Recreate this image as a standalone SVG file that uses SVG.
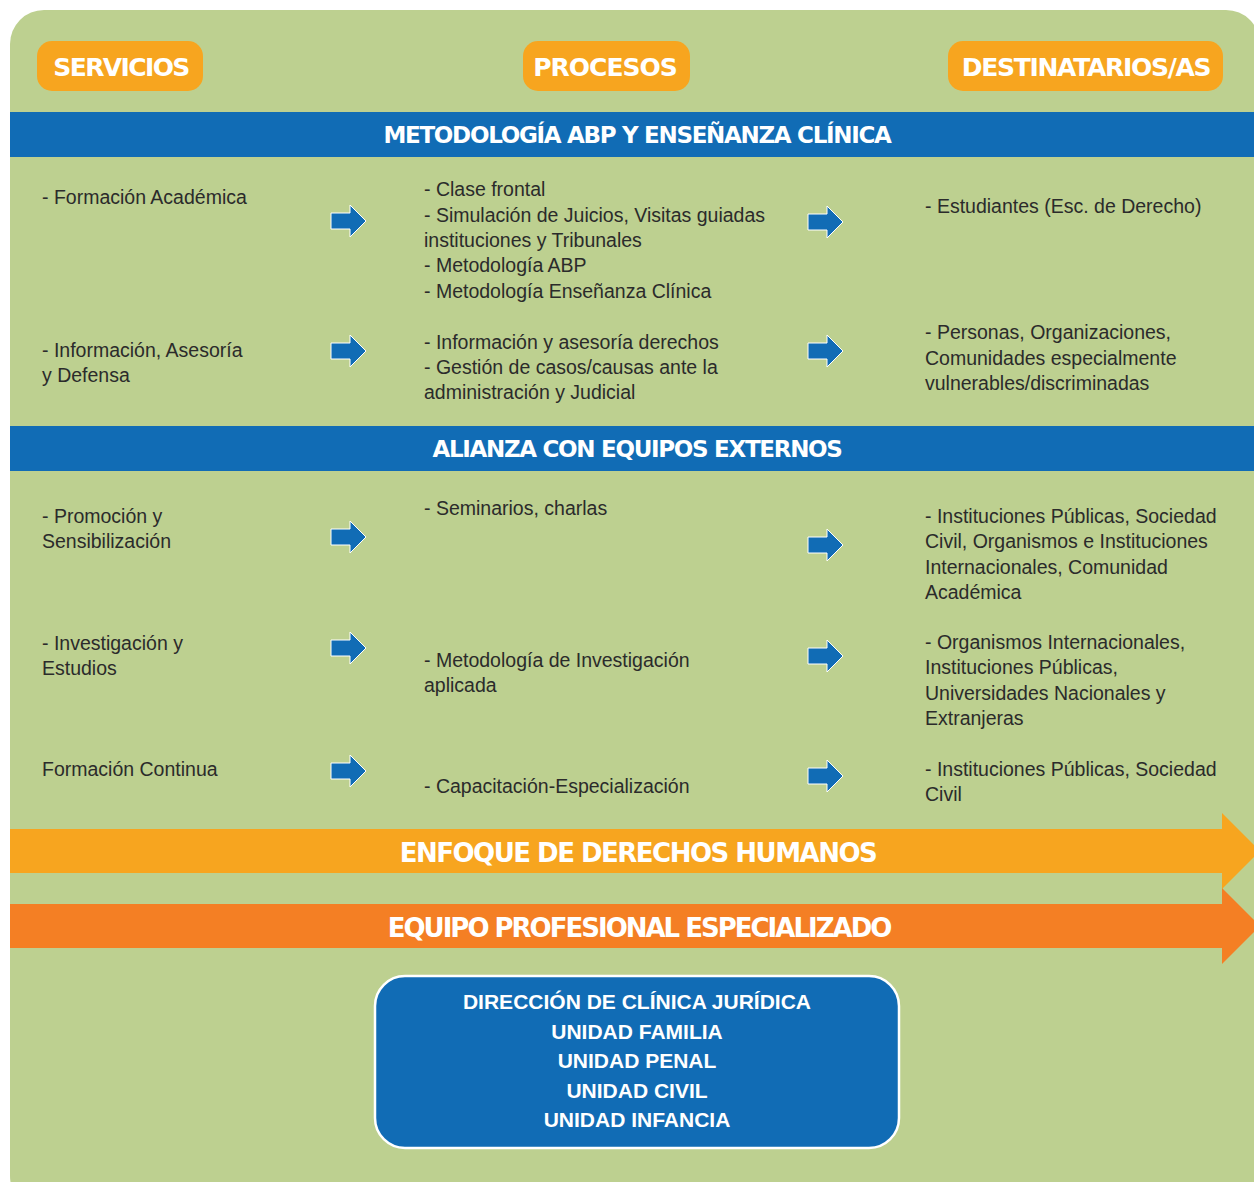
<svg xmlns="http://www.w3.org/2000/svg" width="1254" height="1182" viewBox="0 0 1254 1182">
<style>
.hdr{font-family:"DejaVu Sans","Liberation Sans",sans-serif;font-weight:bold;fill:#fff;text-anchor:middle;letter-spacing:-1.3px}
.band{font-family:"DejaVu Sans","Liberation Sans",sans-serif;font-weight:bold;fill:#fff;text-anchor:middle;letter-spacing:-1.3px}
.t{font-family:"Liberation Sans",Arial,sans-serif;font-size:19.5px;fill:#2b2b2b}
.box{font-family:"Liberation Sans",Arial,sans-serif;font-size:21px;font-weight:bold;fill:#fff;text-anchor:middle}
.pill{fill:#F7A51F}
.sa{fill:#116CB5;stroke:#fff;stroke-width:1}
</style>
<defs>
<path id="sarrow" class="sa" d="M0,-8 H19 V-16 L35,0 L19,16 V8 H0 Z"/>
</defs>
<rect x="0" y="0" width="1254" height="1182" fill="#fff"/>
<rect x="10" y="10" width="1250" height="1200" rx="34" fill="#BDD090"/>

<g id="header-servicios"><rect class="pill" x="37" y="41" width="166" height="50" rx="15"/><text class="hdr" x="121" y="76" font-size="25" style="letter-spacing:-1.6px">SERVICIOS</text></g>
<g id="header-procesos"><rect class="pill" x="523" y="41" width="167" height="50" rx="15"/><text class="hdr" x="605" y="76" font-size="25" style="letter-spacing:-1px">PROCESOS</text></g>
<g id="header-destinatarios"><rect class="pill" x="948" y="41" width="275" height="50" rx="15"/><text class="hdr" x="1086" y="76" font-size="25">DESTINATARIOS/AS</text></g>

<g id="band-metodologia"><rect x="10" y="112" width="1244" height="45" fill="#116CB5"/><text class="band" x="637" y="143" font-size="23">METODOLOGÍA ABP Y ENSEÑANZA CLÍNICA</text></g>
<g id="band-alianza"><rect x="10" y="426" width="1244" height="45" fill="#116CB5"/><text class="band" x="637" y="457" font-size="23">ALIANZA CON EQUIPOS EXTERNOS</text></g>

<g id="servicios">
<text class="t" x="42" y="204">- Formación Académica</text>
<text class="t" x="42" y="357">- Información, Asesoría</text>
<text class="t" x="42" y="382">y Defensa</text>
<text class="t" x="42" y="523">- Promoción y</text>
<text class="t" x="42" y="548">Sensibilización</text>
<text class="t" x="42" y="650">- Investigación y</text>
<text class="t" x="42" y="675">Estudios</text>
<text class="t" x="42" y="776">Formación Continua</text>
</g>

<g id="procesos">
<text class="t" x="424" y="196">- Clase frontal</text>
<text class="t" x="424" y="222">- Simulación de Juicios, Visitas guiadas</text>
<text class="t" x="424" y="247">instituciones y Tribunales</text>
<text class="t" x="424" y="272">- Metodología ABP</text>
<text class="t" x="424" y="298">- Metodología Enseñanza Clínica</text>
<text class="t" x="424" y="349">- Información y asesoría derechos</text>
<text class="t" x="424" y="374">- Gestión de casos/causas ante la</text>
<text class="t" x="424" y="399">administración y Judicial</text>
<text class="t" x="424" y="515">- Seminarios, charlas</text>
<text class="t" x="424" y="667">- Metodología de Investigación</text>
<text class="t" x="424" y="692">aplicada</text>
<text class="t" x="424" y="793">- Capacitación-Especialización</text>
</g>

<g id="destinatarios">
<text class="t" x="925" y="213">- Estudiantes (Esc. de Derecho)</text>
<text class="t" x="925" y="339">- Personas, Organizaciones,</text>
<text class="t" x="925" y="365">Comunidades especialmente</text>
<text class="t" x="925" y="390">vulnerables/discriminadas</text>
<text class="t" x="925" y="523">- Instituciones Públicas, Sociedad</text>
<text class="t" x="925" y="548">Civil, Organismos e Instituciones</text>
<text class="t" x="925" y="574">Internacionales, Comunidad</text>
<text class="t" x="925" y="599">Académica</text>
<text class="t" x="925" y="649">- Organismos Internacionales,</text>
<text class="t" x="925" y="674">Instituciones Públicas,</text>
<text class="t" x="925" y="700">Universidades Nacionales y</text>
<text class="t" x="925" y="725">Extranjeras</text>
<text class="t" x="925" y="776">- Instituciones Públicas, Sociedad</text>
<text class="t" x="925" y="801">Civil</text>
</g>

<g id="connectors">
<use href="#sarrow" x="331" y="221"/>
<use href="#sarrow" x="331" y="351"/>
<use href="#sarrow" x="331" y="537"/>
<use href="#sarrow" x="331" y="648"/>
<use href="#sarrow" x="331" y="771"/>
<use href="#sarrow" x="808" y="222"/>
<use href="#sarrow" x="808" y="351"/>
<use href="#sarrow" x="808" y="545"/>
<use href="#sarrow" x="808" y="656"/>
<use href="#sarrow" x="808" y="776"/>
</g>

<g id="enfoque">
<path d="M10,829 H1222 V813 L1260,851 L1222,889 V873 H10 Z" fill="#F7A51F"/>
<text class="band" x="638" y="862" font-size="26" style="letter-spacing:-1.5px">ENFOQUE DE DERECHOS HUMANOS</text>
</g>
<g id="equipo">
<path d="M10,904 H1222 V888 L1260,926 L1222,964 V948 H10 Z" fill="#F47F24"/>
<text class="band" x="639" y="937" font-size="26" style="letter-spacing:-2px">EQUIPO PROFESIONAL ESPECIALIZADO</text>
</g>

<g id="unidades">
<rect x="375" y="976" width="524" height="172" rx="30" fill="#116CB5" stroke="#fff" stroke-width="2.5"/>
<text class="box" x="637" y="1009">DIRECCIÓN DE CLÍNICA JURÍDICA</text>
<text class="box" x="637" y="1039">UNIDAD FAMILIA</text>
<text class="box" x="637" y="1068">UNIDAD PENAL</text>
<text class="box" x="637" y="1098">UNIDAD CIVIL</text>
<text class="box" x="637" y="1127">UNIDAD INFANCIA</text>
</g>
</svg>
